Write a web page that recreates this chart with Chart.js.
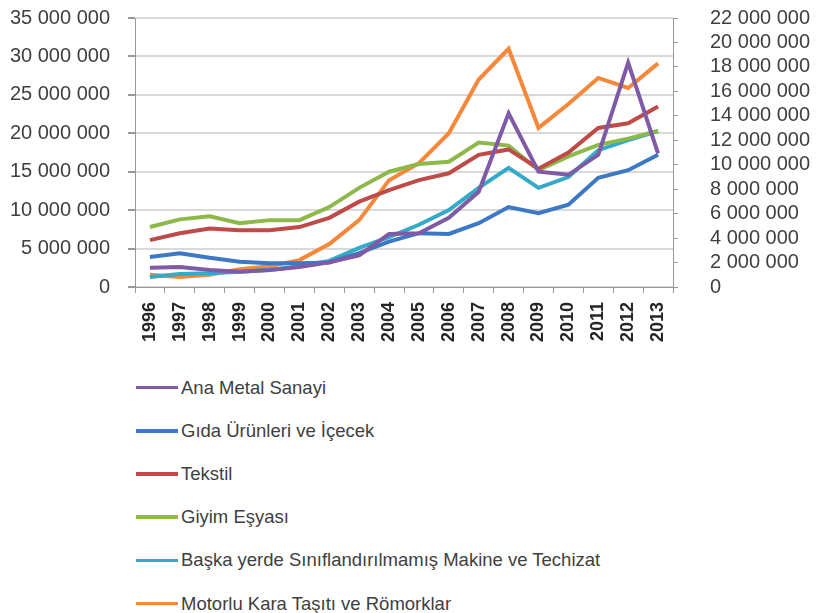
<!DOCTYPE html>
<html>
<head>
<meta charset="utf-8">
<script src="https://cdn.jsdelivr.net/npm/chart.js@4.4.1/dist/chart.umd.min.js"></script>
<style>
  body { margin: 0; background: #fff; font-family: "Liberation Sans", Arial, sans-serif; }
  #wrap { position: relative; width: 818px; height: 613px; overflow: hidden; }
  #box { position: absolute; left: 0; top: -26px; width: 818px; height: 386px; }
  #legend { position: absolute; left: 136px; top: 366px; }
  .item { height: 43.2px; display: flex; align-items: center; font-size: 18.5px; color: #404040; }
  .item span.l { display: inline-block; width: 42px; height: 3.5px; margin-right: 3px; }
</style>
</head>
<body>
<div id="wrap">
  <div id="box"><canvas id="myChart"></canvas></div>
  <div id="legend"></div>
</div>
<script>
var years = ["1996", "1997", "1998", "1999", "2000", "2001", "2002", "2003", "2004",
  "2005", "2006", "2007", "2008", "2009", "2010", "2011", "2012", "2013"];

var anaMetal = [2500000, 2600000, 2200000, 2000000, 2200000, 2600000, 3200000, 4100000, 6900000,
  7000000, 9000000, 12400000, 22600000, 15000000, 14600000, 17200000, 29200000, 17400000];
var gida = [3900000, 4400000, 3800000, 3300000, 3100000, 3100000, 3200000, 4400000, 5900000,
  7000000, 6900000, 8300000, 10400000, 9600000, 10700000, 14200000, 15200000, 17200000];
var tekstil = [6100000, 7000000, 7600000, 7400000, 7400000, 7800000, 9000000, 11100000, 12600000,
  13900000, 14800000, 17200000, 17900000, 15400000, 17500000, 20700000, 21300000, 23500000];
var giyim = [7800000, 8800000, 9200000, 8300000, 8700000, 8700000, 10400000, 12900000, 15000000,
  16000000, 16300000, 18800000, 18400000, 15200000, 17000000, 18500000, 19300000, 20300000];
var baska = [1300000, 1700000, 1800000, 2000000, 2200000, 2700000, 3400000, 5100000, 6500000,
  8100000, 10000000, 12900000, 15500000, 12900000, 14300000, 17800000, 19100000, 20300000];
var motorlu = [1600000, 1300000, 1600000, 2300000, 2700000, 3500000, 5600000, 8700000, 13900000,
  16100000, 20000000, 27000000, 31000000, 20700000, 23800000, 27200000, 25900000, 29100000];

var names = ["Ana Metal Sanayi", "Gıda Ürünleri ve İçecek", "Tekstil", "Giyim Eşyası",
  "Başka yerde Sınıflandırılmamış Makine ve Techizat", "Motorlu Kara Taşıtı ve Römorklar"];
var lineColors = ["#7f5ba6", "#3c78c3", "#be4b48", "#8db84a", "#34a9c8", "#f5883a"];
var series = [anaMetal, gida, tekstil, giyim, baska, motorlu];

function fmt(v) {
  return String(v).replace(/\B(?=(\d{3})+(?!\d))/g, " ");
}

var sets = [];
for (var i = 0; i < series.length; i++) {
  sets.push({
    label: names[i],
    data: series[i],
    borderColor: lineColors[i],
    backgroundColor: lineColors[i],
    borderWidth: 4,
    pointRadius: 0,
    tension: 0,
    yAxisID: "y"
  });
}

Chart.defaults.font.family = '"Liberation Sans", Arial, sans-serif';

new Chart("myChart", {
  type: "line",
  data: { labels: years, datasets: sets },
  options: {
    responsive: true,
    maintainAspectRatio: false,
    animation: false,
    layout: { padding: 0 },
    plugins: { legend: { display: false }, tooltip: { enabled: false } },
    scales: {
      x: {
        offset: true,
        grid: { offset: true, drawOnChartArea: false, tickLength: 6, color: "#999", lineWidth: 1 },
        border: { color: "#999", width: 1 },
        ticks: {
          minRotation: 90, maxRotation: 90, padding: 9,
          color: "#262626", font: { size: 18, weight: "bold" }
        },
        afterFit: function (s) { s.height = 73; }
      },
      y: {
        position: "left",
        min: 0, max: 35000000,
        grid: { color: "#d9d9d9", lineWidth: 2, tickLength: 7, tickColor: "#999" },
        border: { color: "#999", width: 1 },
        ticks: {
          stepSize: 5000000, padding: 18, color: "#404040", font: { size: 20 },
          callback: function (v) { return fmt(v); }
        },
        afterFit: function (s) { s.width = 135; }
      },
      y1: {
        position: "right",
        min: 0, max: 22000000,
        grid: { drawOnChartArea: false, tickLength: 5, color: "#999" },
        border: { color: "#999", width: 1 },
        ticks: {
          stepSize: 2000000, autoSkip: false, padding: 32, color: "#404040", font: { size: 20 },
          callback: function (v) { return fmt(v); }
        },
        afterFit: function (s) { s.width = 145; }
      }
    }
  }
});

var lg = document.getElementById("legend");
for (var j = 0; j < names.length; j++) {
  var row = document.createElement("div");
  row.className = "item";
  row.innerHTML = '<span class="l" style="background:' + lineColors[j] + '"></span>' + names[j];
  lg.appendChild(row);
}
</script>
</body>
</html>
